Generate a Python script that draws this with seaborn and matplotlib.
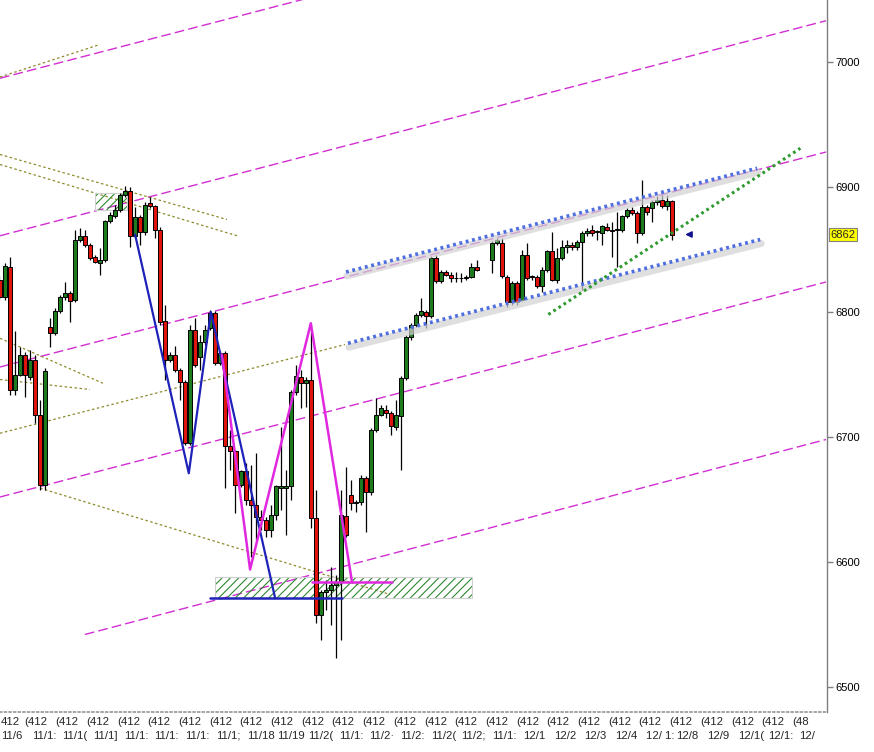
import numpy as np
import pandas as pd
import matplotlib
matplotlib.use("Agg")
import matplotlib.pyplot as plt
import matplotlib.patches as mpatches
import matplotlib.transforms as mtransforms
import seaborn as sns

nan = np.nan

# candle data, one slot per bar (nan = empty slot)
opens = [6826, 6812, 6836, 6738, 6750, 6766, 6748, 6762, 6718, 6662,
         6788, 6783, 6801, 6812, 6815, 6810, 6858, 6861, 6854, 6844,
         6839, 6842, 6873, 6877, 6882, 6894, 6897, 6861, 6876, 6864,
         6887, 6885, 6866, 6793, 6762, 6766, 6754, 6744, 6695, 6786,
         6764, 6776, 6787, 6799, 6759, 6767, 6693, 6689, 6662, 6673,
         6650, 6646, 6636, 6634, 6626, 6638, 6659, 6659, 6661, 6736,
         6748, 6743, 6746, 6635, 6558, 6576, 6578, 6582, 6584, 6637,
         6654, 6647, 6648, 6667, 6656, 6706, 6718, 6722, 6719, 6708,
         6717, 6747, 6780, 6790, 6798, 6800, 6797, 6843, 6825, 6832,
         6830, 6827, 6827, 6827, 6828, 6836, nan, nan, 6842, 6855,
         6855, 6828, 6808, 6823, 6810, 6846, 6829, 6828, 6821, 6834,
         6849, 6826, 6843, 6852, 6854, 6852, 6856, 6863, 6866, 6865,
         6863, 6868, 6866, 6866, 6866, 6877, 6882, 6879, 6863, 6884,
         6883, 6888, 6890, 6885, 6889]
highs = [6829, 6839, 6844, 6785, 6772, 6768, 6770, 6766, 6730, 6755,
         6795, 6803, 6814, 6824, 6817, 6866, 6867, 6866, 6855, 6846,
         6851, 6874, 6880, 6886, 6895, 6901, 6900, 6884, 6878, 6888,
         6892, 6886, 6868, 6806, 6768, 6773, 6755, 6746, 6790, 6795,
         6782, 6790, 6802, 6801, 6769, 6769, 6706, 6690, 6674, 6679,
         6678, 6687, 6642, 6636, 6646, 6662, 6708, 6674, 6738, 6758,
         6754, 6748, 6786, 6658, 6578, 6586, 6596, 6590, 6658, 6676,
         6666, 6650, 6670, 6669, 6707, 6731, 6726, 6726, 6721, 6730,
         6749, 6782, 6791, 6799, 6811, 6802, 6845, 6846, 6834, 6834,
         6832, 6832, 6831, 6830, 6839, 6842, nan, nan, 6857, 6859,
         6859, 6830, 6825, 6825, 6850, 6855, 6830, 6830, 6836, 6850,
         6864, 6851, 6858, 6858, 6856, 6858, 6865, 6867, 6870, 6866,
         6870, 6871, 6872, 6880, 6878, 6883, 6884, 6881, 6906, 6886,
         6890, 6893, 6894, 6894, 6890]
lows = [6810, 6810, 6734, 6734, 6749, 6732, 6746, 6711, 6658, 6658,
        6772, 6782, 6799, 6810, 6792, 6808, 6856, 6852, 6842, 6839,
        6830, 6840, 6871, 6875, 6880, 6892, 6852, 6859, 6854, 6862,
        6883, 6859, 6790, 6746, 6760, 6752, 6730, 6694, 6694, 6756,
        6754, 6774, 6786, 6758, 6758, 6659, 6674, 6639, 6660, 6646,
        6604, 6618, 6626, 6620, 6620, 6634, 6642, 6622, 6650, 6734,
        6723, 6724, 6627, 6551, 6538, 6562, 6550, 6523, 6538, 6620,
        6642, 6640, 6646, 6624, 6654, 6704, 6717, 6715, 6702, 6706,
        6674, 6746, 6778, 6788, 6796, 6787, 6795, 6823, 6823, 6829,
        6824, 6824, 6824, 6826, 6827, 6833, nan, nan, 6831, 6854,
        6827, 6804, 6806, 6806, 6809, 6826, 6826, 6819, 6816, 6832,
        6825, 6823, 6842, 6847, 6850, 6850, 6818, 6861, 6861, 6858,
        6854, 6865, 6844, 6836, 6864, 6875, 6878, 6855, 6862, 6878,
        6872, 6886, 6883, 6882, 6858]
closes = [6812, 6837, 6738, 6750, 6766, 6750, 6762, 6718, 6662, 6753,
          6783, 6801, 6812, 6815, 6809, 6858, 6861, 6854, 6843, 6840,
          6842, 6873, 6878, 6882, 6894, 6897, 6861, 6876, 6864, 6886,
          6885, 6866, 6792, 6762, 6766, 6754, 6744, 6695, 6786, 6758,
          6776, 6786, 6799, 6759, 6767, 6693, 6689, 6662, 6673, 6650,
          6646, 6636, 6634, 6626, 6638, 6661, 6661, 6661, 6736, 6749,
          6743, 6746, 6635, 6558, 6576, 6578, 6582, 6584, 6638, 6622,
          6647, 6648, 6667, 6656, 6706, 6718, 6723, 6719, 6709, 6718,
          6747, 6780, 6790, 6798, 6801, 6797, 6843, 6825, 6832, 6830,
          6827, 6827, 6827, 6828, 6836, 6834, nan, nan, 6855, 6858,
          6829, 6808, 6823, 6808, 6846, 6827, 6828, 6821, 6834, 6849,
          6826, 6843, 6852, 6854, 6852, 6856, 6863, 6865, 6863, 6864,
          6869, 6866, 6865, 6866, 6877, 6882, 6879, 6863, 6884, 6880,
          6888, 6890, 6885, 6889, 6862]

# hand drawn objects, as (bar index, price) anchor points
channel_lines = [
    [(0.1, 6987), (164.6, 7159)],
    [(0.1, 6861), (164.6, 7033)],
    [(0.1, 6756), (164.6, 6928)],
    [(0.1, 6652), (164.6, 6824)],
    [(17.0, 6542), (164.6, 6698)],
]
olive_lines = [
    [(0.1, 6988), (20.0, 7014)],
    [(0.1, 6926), (45.3, 6874)],
    [(0.1, 6918), (47.3, 6861)],
    [(0.1, 6779), (20.6, 6743)],
    [(0.1, 6746), (18.0, 6738)],
    [(0.1, 6703), (68.8, 6774)],
    [(8.1, 6659), (77.8, 6574)],
]
blue_wave = [(27.0, 6862), (37.7, 6671), (42.1, 6800), (54.9, 6571)]
blue_base = [(41.9, 6571), (68.2, 6571)]
pink_wave = [(44.3, 6766), (49.9, 6594), (62.0, 6791), (70.2, 6584)]
pink_base = [(62.2, 6584), (78.2, 6584)]
hatch_boxes = [(42.9, 6571, 94.1, 6588), (19.0, 6882, 25.4, 6895)]
blue_channel = [
    [(69.0, 6832), (150.9, 6915)],
    [(69.4, 6775), (151.5, 6858)],
]
green_trend = [(109.3, 6798), (159.5, 6931)]
arrow_at = (136.0, 6862)

y_ticks = [6500, 6600, 6700, 6800, 6900, 7000]
x_top = ["412"] + ["(412"] * 25 + ["(48"]
x_dates = ["11/6", "11/1:", "11/1(", "11/1]", "11/1:", "11/1:", "11/1:",
           "11/1;", "11/18", "11/19", "11/2(", "11/1:", "11/2·", "11/2:",
           "11/2(", "11/2;", "11/1:", "12/1", "12/2", "12/3", "12/4",
           "12/ 1:", "12/8", "12/9", "12/1(", "12/1:", "12/"]


def seg(ax, pts, **kw):
    xs, ys = zip(*pts)
    sns.lineplot(x=list(xs), y=list(ys), ax=ax, estimator=None, sort=False, **kw)


sns.set_theme(style="white")
plt.rcParams["font.family"] = ["Liberation Sans", "DejaVu Sans"]
plt.rcParams["hatch.linewidth"] = 0.8

W, H = 874, 752
fig = plt.figure(figsize=(W / 100, H / 100), dpi=100, facecolor="white")
ax = fig.add_axes([0, 1 - 712 / H, 827 / W, 712 / H])
ax.set_facecolor("white")
ax.set_xlim(0.1, 164.8)
ax.set_ylim(6480, 7049.6)

# background guide lines
for ln in channel_lines:
    seg(ax, ln, color="#d22ed2", lw=1.0, linestyle=(0, (7, 3)), zorder=1)
for ln in olive_lines:
    seg(ax, ln, color="#8c8a2a", lw=0.9, linestyle=(0, (2, 2)), zorder=1)

for x0, y0, x1, y1 in hatch_boxes:
    ax.add_patch(mpatches.Rectangle((x0, y0), x1 - x0, y1 - y0, fill=False,
                                    hatch="////", edgecolor="#2e8a2e", lw=0, zorder=2))
    ax.add_patch(mpatches.Rectangle((x0, y0), x1 - x0, y1 - y0, fill=False,
                                    edgecolor="#d0d0d0", lw=0.8, zorder=2))

# candles
df = pd.DataFrame({"open": opens, "high": highs, "low": lows, "close": closes})
df["bar"] = np.arange(len(df))
df = df.dropna()
up = df["close"] >= df["open"]
body_col = np.where(up, "#1d7b1d", "#e0140c")
ax.vlines(df["bar"], df["low"], df["high"], color="black", lw=0.9, zorder=3)
ax.bar(df["bar"], (df["close"] - df["open"]).abs().clip(lower=0.5),
       bottom=df[["open", "close"]].min(axis=1), width=0.8, color=body_col,
       edgecolor="black", lw=0.7, zorder=4)

# drawn waves
seg(ax, blue_wave, color="#1f22b8", lw=1.6, zorder=5)
seg(ax, blue_base, color="#1f22b8", lw=1.8, zorder=5)
seg(ax, pink_wave, color="#e028e0", lw=1.8, zorder=5)
seg(ax, pink_base, color="#e028e0", lw=1.8, zorder=5)

# dotted channel with soft shadow
shadow = mtransforms.offset_copy(ax.transData, fig=fig, x=1, y=-4, units="dots")
for ln in blue_channel:
    xs, ys = zip(*ln)
    ax.plot(xs, ys, color="#d2d2d2", lw=5, alpha=0.7, transform=shadow,
            solid_capstyle="round", zorder=5)
    seg(ax, ln, color="#4f6fe0", lw=2.6, linestyle=(0, (0.8, 1.0)), zorder=6)
seg(ax, green_trend, color="#2f9a2f", lw=2.2, linestyle=(0, (0.9, 1.1)), zorder=6)

ax.annotate("", xy=arrow_at, xytext=(arrow_at[0] + 2.2, arrow_at[1]),
            arrowprops=dict(arrowstyle="-|>", color="#12128c", lw=1.2,
                            mutation_scale=9), zorder=7)

# axes styling
for s in ["left", "top"]:
    ax.spines[s].set_visible(False)
ax.spines["right"].set_color("#7f7f7f")
ax.spines["right"].set_linewidth(1)
ax.spines["bottom"].set_color("#9a9a9a")
ax.spines["bottom"].set_linestyle(":")
ax.yaxis.tick_right()
ax.set_yticks(y_ticks)
ax.tick_params(axis="y", direction="out", length=4, width=1, colors="#7f7f7f",
               labelcolor="black", labelsize=8, pad=2)
ax.set_xticks([])

# last price tag
tag_tr = mtransforms.blended_transform_factory(ax.transAxes, ax.transData)
ax.text(1.004, closes[-1], f"{closes[-1]:.0f}", transform=tag_tr, ha="left",
        va="center", fontsize=8, clip_on=False,
        bbox=dict(boxstyle="square,pad=0.12", fc="#ffff00", ec="#808080", lw=0.8))

# two row date labels under the bars
clip = mtransforms.Bbox.from_extents(0, 0, 827, H)
for j, (top, bot) in enumerate(zip(x_top, x_dates)):
    left = 1 + 30.7 * j
    for txt, xp, yp in [(top, max(left - 7, 1), 722), (bot, left, 736)]:
        t = fig.text(xp / W, 1 - yp / H, txt, ha="left", va="center", fontsize=8.2)
        t.set_clip_box(clip)
        t.set_clip_on(True)

fig.savefig("out.png", dpi=100, facecolor="white")
